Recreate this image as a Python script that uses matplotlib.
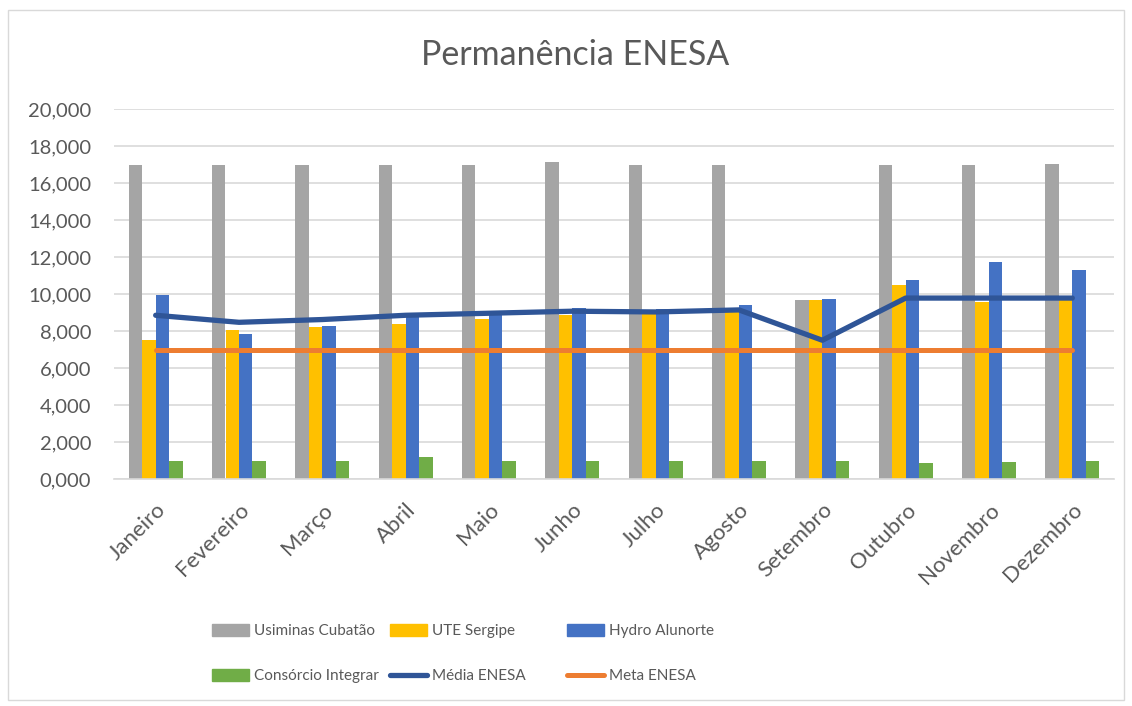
import matplotlib
matplotlib.use("Agg")
import matplotlib.pyplot as plt
import numpy as np
from matplotlib.patches import Rectangle, Patch
from matplotlib.lines import Line2D

plt.rcParams['font.family'] = ['Lato', 'DejaVu Sans']

months = ["Janeiro", "Fevereiro", "Março", "Abril", "Maio", "Junho", "Julho",
          "Agosto", "Setembro", "Outubro", "Novembro", "Dezembro"]
usiminas = [17.00, 17.00, 17.00, 16.97, 17.00, 17.13, 16.98, 16.95, 9.68, 16.97, 16.98, 17.02]
ute = [7.54, 8.03, 8.24, 8.38, 8.65, 8.89, 8.95, 9.20, 9.66, 10.48, 9.55, 9.84]
hydro = [9.93, 7.86, 8.28, 8.85, 8.90, 9.25, 9.20, 9.40, 9.75, 10.74, 11.74, 11.31]
consorcio = [0.95, 0.95, 0.95, 1.20, 0.95, 0.95, 0.95, 0.95, 0.95, 0.88, 0.90, 0.95]
media = [8.85, 8.47, 8.62, 8.85, 8.96, 9.07, 9.03, 9.14, 7.50, 9.78, 9.78, 9.78]
meta = [7.0] * 12
yticks = [0, 2, 4, 6, 8, 10, 12, 14, 16, 18, 20]

c_gray = "#A5A5A5"
c_yellow = "#FFC000"
c_blue = "#4472C4"
c_green = "#70AD47"
c_media = "#2F5597"
c_meta = "#ED7D31"
txt = "#595959"

W, H = 1132, 706
fig = plt.figure(figsize=(W / 100, H / 100), dpi=100)
fig.patches.append(Rectangle((7.5 / W, 1 - 700 / H), (1124 - 7.5) / W, (700 - 10) / H,
                             transform=fig.transFigure, fill=False,
                             edgecolor="#D9D9D9", linewidth=1))

ax = fig.add_axes([114 / W, 1 - 479 / H, 1000 / W, 370 / H])
x = np.arange(len(months))
bw = 0.162
series = [(usiminas, c_gray), (ute, c_yellow), (hydro, c_blue), (consorcio, c_green)]
for i, (vals, col) in enumerate(series):
    ax.bar(x + (i - 1.5) * bw, vals, width=bw, color=col, zorder=2)
ax.plot(x, media, color=c_media, lw=3.8, solid_capstyle='round', zorder=3)
ax.plot(x, meta, color=c_meta, lw=3.6, solid_capstyle='round', zorder=3)

ax.set_xlim(-0.5, len(months) - 0.5)
ax.set_ylim(0, 20)
ax.set_yticks(yticks)
ax.set_yticklabels([f"{v:.3f}".replace(".", ",") for v in yticks], fontsize=14.5, color=txt)
ax.yaxis.grid(True, color="#D9D9D9", lw=1.2, zorder=0)
ax.set_axisbelow(True)
ax.tick_params(axis='y', length=0, pad=16.5)
ax.tick_params(axis='x', length=0, pad=15)
ax.set_xticks(x)
ax.set_xticklabels(months, rotation=45, ha='right', rotation_mode='anchor',
                   fontsize=16, color=txt)
for s in ['top', 'right', 'left']:
    ax.spines[s].set_visible(False)
ax.spines['bottom'].set_color("#D9D9D9")
ax.spines['bottom'].set_linewidth(1.2)

fig.text(575 / W, 1 - 55 / H, "Permanência ENESA", ha='center', va='center',
         fontsize=24.5, color=txt)

cols = [
    [(Patch(color=c_gray), "Usiminas Cubatão"), (Patch(color=c_green), "Consórcio Integrar")],
    [(Patch(color=c_yellow), "UTE Sergipe"), (Line2D([], [], color=c_media, lw=3.8, solid_capstyle='round'), "Média ENESA")],
    [(Patch(color=c_blue), "Hydro Alunorte"), (Line2D([], [], color=c_meta, lw=3.6, solid_capstyle='round'), "Meta ENESA")],
]
xs = [212, 390, 567]
for xc, entries in zip(xs, cols):
    leg = fig.legend([e[0] for e in entries], [e[1] for e in entries],
                     loc='upper left', bbox_to_anchor=(xc / W, 1 - 624 / H),
                     frameon=False, fontsize=11, handlelength=2.42,
                     handleheight=0.85,
                     handletextpad=0.33, labelspacing=2.0, borderpad=0,
                     borderaxespad=0)
    for t in leg.get_texts():
        t.set_color(txt)

fig.savefig("out.png", dpi=100)
